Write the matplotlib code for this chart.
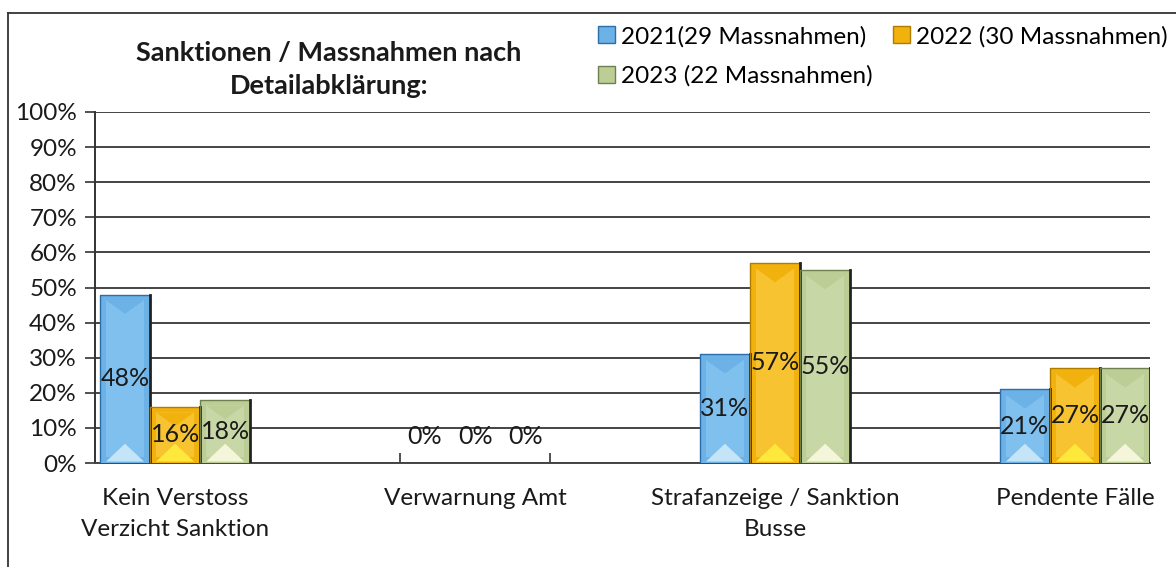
import numpy as np
import matplotlib
matplotlib.use('Agg')
import matplotlib.pyplot as plt
from matplotlib.patches import Patch
from matplotlib.lines import Line2D

plt.rcParams['font.family'] = ['Lato', 'DejaVu Sans']

categories = ['Kein Verstoss\nVerzicht Sanktion', 'Verwarnung Amt',
              'Strafanzeige / Sanktion\nBusse', 'Pendente Fälle']
series_names = ['2021(29 Massnahmen)', '2022 (30 Massnahmen)', '2023 (22 Massnahmen)']
v2021 = [48, 0, 31, 21]
v2022 = [16, 0, 57, 27]
v2023 = [18, 0, 55, 27]
yticks = [0, 10, 20, 30, 40, 50, 60, 70, 80, 90, 100]

face = ['#6cb2e6', '#f2b20e', '#bccd95']
inner = ['#80c0ee', '#f7c330', '#c8d7a6']
light = ['#c4e4f7', '#ffe83c', '#f5f5da']
edge = ['#2d6da8', '#b07c00', '#6f8050']

fig = plt.figure(figsize=(11.76, 5.67), dpi=100)
ax = fig.add_axes([95/1176, 1-463/567, (1150-95)/1176, (463-112)/567])

x = np.arange(len(categories))
w = 0.167
allv = [v2021, v2022, v2023]
for i, vals in enumerate(allv):
    xs = x + (i-1)*w
    bars = ax.bar(xs, vals, width=w, color=face[i], edgecolor='none', zorder=3)
    for b, v in zip(bars, vals):
        if v <= 0:
            continue
        x0, x1 = b.get_x(), b.get_x() + b.get_width()
        dx = 0.02
        dy = 1.6
        # inner face
        ax.fill([x0+dx, x1-dx, x1-dx, x0+dx], [dy, dy, v-dy, v-dy],
                color=inner[i], zorder=4, lw=0)
        # light triangle at the bottom
        xm = (x0+x1)/2
        ax.fill([x0+dx, x1-dx, xm], [0.4, 0.4, 5.5], color=light[i], zorder=5, lw=0)
        # darker triangle at the top
        ax.fill([x0+dx, x1-dx, xm], [v-dy, v-dy, v-5.5], color=face[i], zorder=5, lw=0)
        # dark outline, heavier on the right side
        ax.plot([x0, x0, x1], [0, v, v], color=edge[i], lw=1.0, zorder=6)
        ax.plot([x1, x1], [0, v], color='#222222', lw=2.0, zorder=6)
    for xi, v in zip(xs, vals):
        ax.text(xi, v/2 if v > 0 else 7.5, f'{v}%', ha='center', va='center',
                fontsize=18, color='#1a1a1a', zorder=7)

ax.set_xlim(-0.267, 3.25)
ax.set_ylim(0, 100)
ax.set_yticks(yticks)
ax.set_yticklabels([f'{t}%' for t in yticks], fontsize=17.5, color='#1a1a1a')
ax.yaxis.grid(True, color='#444444', lw=1.4, zorder=0)
ax.set_axisbelow(True)
ax.tick_params(axis='y', length=7, width=1.2, color='#333333', pad=6)
ax.set_xticks(x)
ax.set_xticklabels(categories, fontsize=17.5, color='#1a1a1a', linespacing=1.6)
ax.tick_params(axis='x', length=0, pad=18)
ax.set_xticks([0.75, 1.25], minor=True)
ax.tick_params(axis='x', which='minor', direction='in', length=7, width=1.2, color='#333333')
for s in ['top', 'right']:
    ax.spines[s].set_visible(False)
ax.spines['left'].set_color('#333333')
ax.spines['left'].set_linewidth(1.4)
ax.spines['bottom'].set_color('#444444')
ax.spines['bottom'].set_linewidth(1.4)

# title
fig.text(329/1176, 1-70/567, 'Sanktionen / Massnahmen nach\nDetailabklärung:',
         ha='center', va='center', fontsize=19.5, fontweight='bold', color='#1a1a1a',
         linespacing=1.45)

# legend (column-major fill, so reorder for 2021, 2022 / 2023)
handles = [Patch(facecolor=face[i], edgecolor=edge[i]) for i in range(3)]
order = [0, 2, 1]
fig.legend([handles[k] for k in order], [series_names[k] for k in order],
           loc='upper left', bbox_to_anchor=(588/1176, 1-16/567),
           ncol=2, frameon=False, fontsize=17.5, handlelength=0.7, handleheight=0.7,
           handletextpad=0.25, columnspacing=0.85, labelspacing=0.75, borderaxespad=0)

# outer frame
fig.add_artist(Line2D([8/1176, 1], [1-13/567, 1-13/567], color='#333333', lw=1.3))
fig.add_artist(Line2D([8/1176, 8/1176], [0, 1-13/567], color='#333333', lw=1.3))

fig.savefig('out.png', dpi=100)
